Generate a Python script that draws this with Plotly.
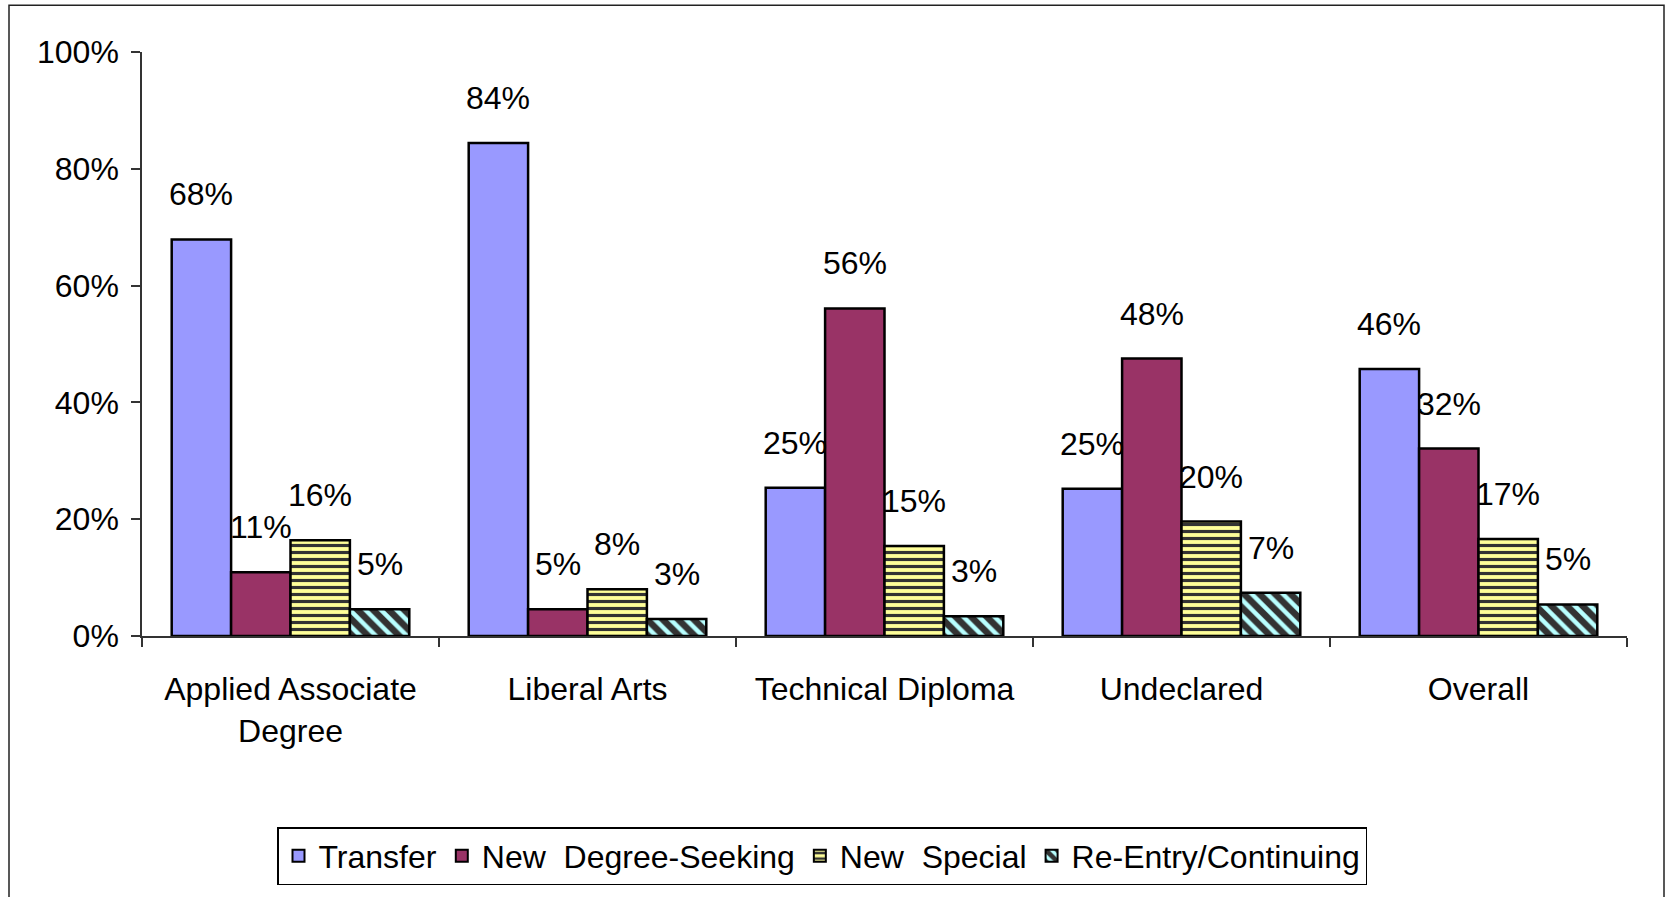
import plotly.graph_objects as go

categories = ["Applied Associate<br>Degree", "Liberal Arts", "Technical Diploma", "Undeclared", "Overall"]
series_names = ["Transfer", "New\u00a0 Degree-Seeking", "New\u00a0 Special", "Re-Entry/Continuing"]
transfer = [67.9, 84.4, 25.4, 25.2, 45.7]
new_degree = [10.9, 4.6, 56.1, 47.5, 32.1]
new_special = [16.4, 8.0, 15.4, 19.6, 16.6]
re_entry = [4.6, 2.9, 3.4, 7.4, 5.4]
y_ticks = [0, 20, 40, 60, 80, 100]
y_tick_labels = ["0%", "20%", "40%", "60%", "80%", "100%"]

series_values = [transfer, new_degree, new_special, re_entry]
colors = ["#9999FF", "#993366", "#FFFF99", "#99FFFF"]
patterns = [None,
            None,
            dict(shape="-", fillmode="replace", bgcolor="#FFFF99", fgcolor="#333333", size=7, solidity=0.45),
            dict(shape="\\", fillmode="replace", bgcolor="#B8FFFF", fgcolor="#333333", size=11, solidity=0.6)]

FONT = "Liberation Sans, Arial, sans-serif"
FS = 32
fig = go.Figure()
for name, vals, col, pat in zip(series_names, series_values, colors, patterns):
    marker = dict(color=col, line=dict(color="black", width=2.5))
    if pat:
        marker["pattern"] = pat
    fig.add_trace(go.Bar(name=name, x=categories, y=vals, marker=marker))

# data labels above bars
n = len(series_names)
bw = 0.8 / n
for si, vals in enumerate(series_values):
    off = -0.4 + bw * (si + 0.5)
    for ci, v in enumerate(vals):
        fig.add_annotation(x=ci + off, y=v, xref="x", yref="y", text=f"{round(v)}%",
                           showarrow=False, yanchor="middle", yshift=45,
                           font=dict(size=FS, color="black", family=FONT))

W, H = 1669, 897
L, R, T, B = 142, 42, 52, 258
pw, ph = W - L - R, H - T - B

def px(x):
    return (x - L) / pw

def py(y):
    return (H - B - y) / ph

fig.add_shape(type="rect", xref="paper", yref="paper",
              x0=px(9), x1=px(1664), y0=py(910), y1=py(5),
              line=dict(color="#222222", width=1.5), fillcolor="rgba(0,0,0,0)", layer="below")

fig.update_layout(
    width=W, height=H,
    margin=dict(l=L, r=R, t=T, b=B),
    paper_bgcolor="white", plot_bgcolor="white",
    barmode="group", bargap=0.2, bargroupgap=0,
    font=dict(family=FONT, size=FS, color="black"),
    showlegend=True,
    legend=dict(orientation="h", x=px(277), y=py(831), xanchor="left", yanchor="top",
                bordercolor="black", borderwidth=1.5, font=dict(size=FS, family=FONT),
                itemsizing="constant", traceorder="normal", itemwidth=30),
    xaxis=dict(showline=True, linecolor="#333333", linewidth=1.5, ticks="outside",
               tickson="boundaries", ticklen=9, tickcolor="#333333", tickwidth=1.5,
               showgrid=False, ticklabelstandoff=24, tickfont=dict(size=FS)),
    yaxis=dict(range=[0, 100], tickvals=y_ticks, ticktext=y_tick_labels,
               showline=True, linecolor="#333333", linewidth=1.5, ticks="outside",
               ticklen=9, tickcolor="#333333", tickwidth=1.5, showgrid=False,
               zeroline=False, ticklabelstandoff=6, tickfont=dict(size=FS)),
)

fig.write_html("out.html", config={"displayModeBar": False},
               post_script="document.body.style.margin='0';document.body.style.overflow='hidden';")
